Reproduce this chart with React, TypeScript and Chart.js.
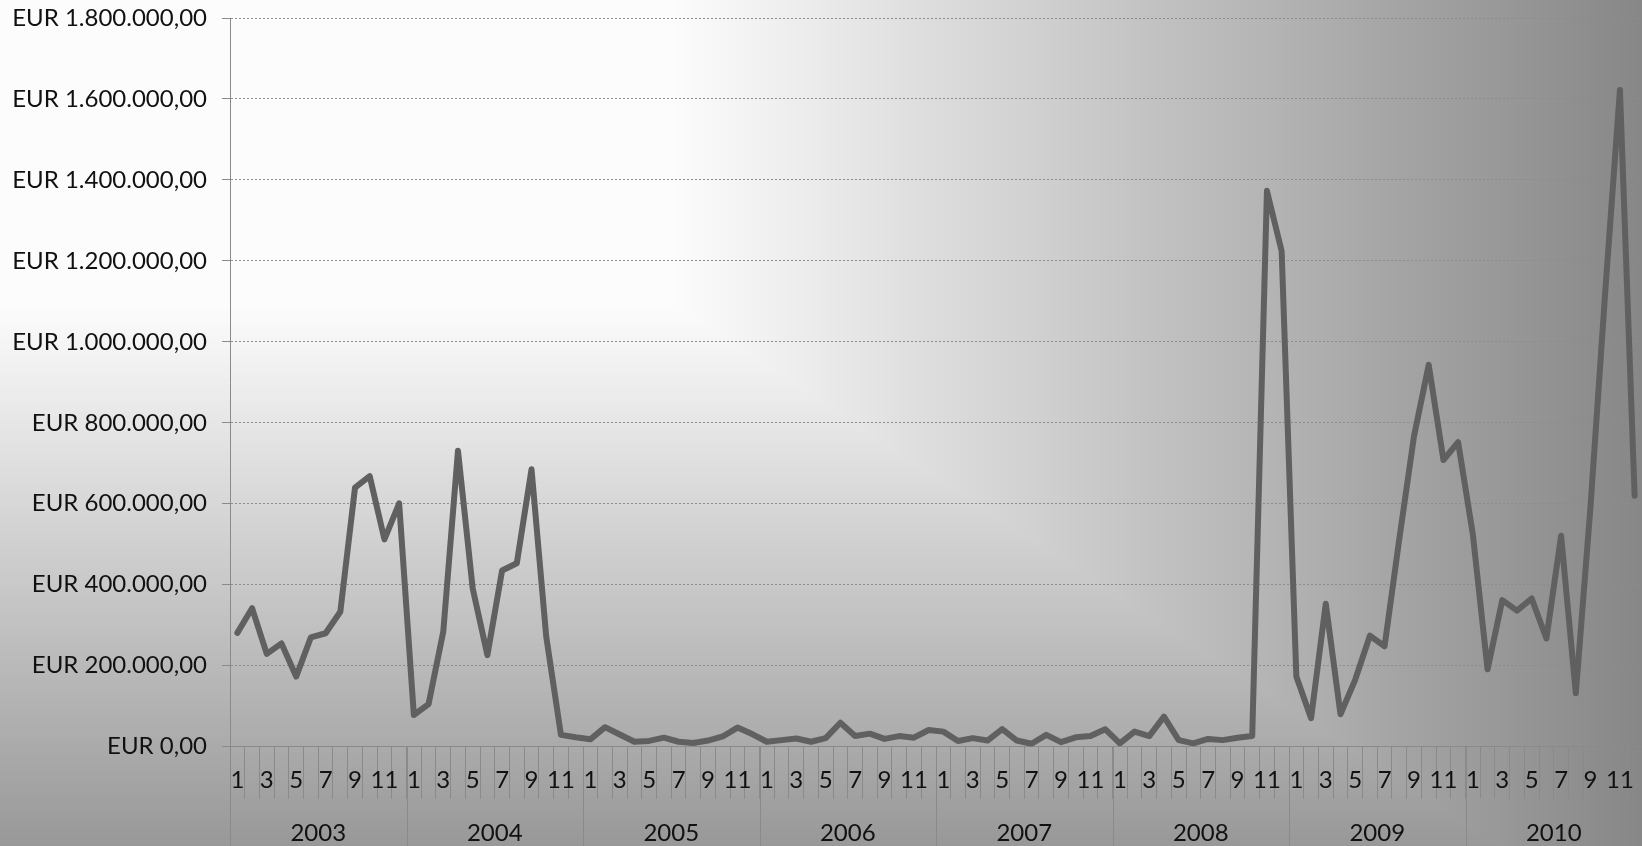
import React, { useEffect, useRef } from "react";
import { Chart, registerables } from "chart.js";

Chart.register(...registerables);

const YEARS = ["2003", "2004", "2005", "2006", "2007", "2008", "2009", "2010"];
const MONTHS = ["1", "2", "3", "4", "5", "6", "7", "8", "9", "10", "11", "12"];

// Monthly values in EUR thousands
const V2003 = [281, 342, 229, 255, 173, 270, 280, 333, 640, 668, 512, 601];
const V2004 = [78, 105, 284, 731, 391, 226, 435, 453, 685, 272, 29, 23];
const V2005 = [18, 48, 30, 12, 14, 22, 12, 9, 15, 25, 47, 31];
const V2006 = [12, 16, 20, 12, 21, 59, 26, 32, 19, 26, 22, 41];
const V2007 = [37, 14, 21, 15, 43, 15, 7, 29, 11, 23, 26, 43];
const V2008 = [8, 37, 26, 74, 16, 8, 19, 16, 22, 26, 1373, 1224];
const V2009 = [173, 70, 353, 80, 165, 274, 248, 513, 767, 943, 708, 752];
const V2010 = [524, 191, 362, 336, 366, 267, 521, 132, 593, 1123, 1622, 620];

const Y_MIN = 0;
const Y_MAX = 1800000;
const Y_STEP = 200000;

const W = 1642;
const H = 846;
const FONT = "Lato, 'Open Sans', sans-serif";
const FONT_SIZE = 24;

function formatEUR(v: number): string {
  const s = Math.round(v).toString().replace(/\B(?=(\d{3})+(?!\d))/g, ".");
  return "EUR " + s + ",00";
}

const bgPlugin = {
  id: "bgGradient",
  beforeDraw(chart: any) {
    const ctx = chart.ctx as CanvasRenderingContext2D;
    const w = chart.width;
    const h = chart.height;
    const img = ctx.createImageData(w, h);
    const d = img.data;
    for (let y = 0; y < h; y++) {
      const ty = y / h;
      const fy = ty < 0.36 ? 252 : 252 - ((ty - 0.36) / 0.64) * (252 - 152);
      for (let x = 0; x < w; x++) {
        const tx = x / w;
        const fx = tx < 0.41 ? 252 : 252 - ((tx - 0.41) / 0.59) * (252 - 135);
        const c = Math.round(Math.min(fx, fy));
        const i = (y * w + x) * 4;
        d[i] = c;
        d[i + 1] = c;
        d[i + 2] = c;
        d[i + 3] = 255;
      }
    }
    ctx.putImageData(img, 0, 0);
  },
};

const yearPlugin = {
  id: "yearAxis",
  afterDraw(chart: any) {
    const ctx = chart.ctx as CanvasRenderingContext2D;
    const xs = chart.scales.x;
    const area = chart.chartArea;
    const half = (xs.getPixelForValue(1) - xs.getPixelForValue(0)) / 2;
    ctx.save();
    ctx.strokeStyle = "#8a8a8a";
    ctx.lineWidth = 1;
    YEARS.forEach((yr, k) => {
      const first = k * MONTHS.length;
      const last = first + MONTHS.length - 1;
      const left = Math.round(xs.getPixelForValue(first) - half) + 0.5;
      ctx.beginPath();
      ctx.moveTo(left, area.bottom);
      ctx.lineTo(left, chart.height);
      ctx.stroke();
      const cx = (xs.getPixelForValue(first) + xs.getPixelForValue(last)) / 2;
      ctx.fillStyle = "#111";
      ctx.font = FONT_SIZE + "px " + FONT;
      ctx.textAlign = "center";
      ctx.textBaseline = "middle";
      ctx.fillText(yr, cx, 833);
    });
    ctx.restore();
  },
};

export default function App() {
  const ref = useRef<HTMLCanvasElement | null>(null);

  useEffect(() => {
    document.body.style.margin = "0";
    document.body.style.overflow = "hidden";
    const labels: string[] = [];
    YEARS.forEach(() => MONTHS.forEach((m) => labels.push(m)));
    const values = [...V2003, ...V2004, ...V2005, ...V2006, ...V2007, ...V2008, ...V2009, ...V2010].map(
      (v) => v * 1000
    );
    const chart = new Chart(ref.current as HTMLCanvasElement, {
      type: "line",
      data: {
        labels,
        datasets: [
          {
            data: values,
            borderColor: "#606060",
            borderWidth: 6,
            pointRadius: 0,
            tension: 0,
            borderJoinStyle: "round",
            borderCapStyle: "round",
            fill: false,
          },
        ],
      },
      options: {
        animation: false,
        responsive: false,
        devicePixelRatio: 1,
        layout: { padding: { top: 18, left: 0, right: 0, bottom: 0 } },
        plugins: { legend: { display: false }, tooltip: { enabled: false } },
        scales: {
          x: {
            type: "category",
            offset: true,
            grid: {
              offset: true,
              drawOnChartArea: false,
              drawTicks: true,
              tickLength: 52,
              color: "#8a8a8a",
              tickColor: "#8a8a8a",
              lineWidth: 1,
            },
            border: { display: true, color: "#8a8a8a", width: 1 },
            ticks: {
              autoSkip: false,
              maxRotation: 0,
              minRotation: 0,
              padding: -33,
              color: "#111",
              font: { family: FONT, size: FONT_SIZE },
              callback: function (this: any, value: any, index: number) {
                return index % 2 === 0 ? this.getLabelForValue(value) : "";
              },
            },
            afterFit: (scale: any) => {
              scale.height = 99.4;
              scale.paddingLeft = 0;
              scale.paddingRight = 0;
            },
          },
          y: {
            min: Y_MIN,
            max: Y_MAX,
            ticks: {
              stepSize: Y_STEP,
              padding: 15,
              color: "#111",
              font: { family: FONT, size: FONT_SIZE },
              callback: (v: any) => formatEUR(Number(v)),
            },
            grid: {
              color: "#8c8c8c",
              tickColor: "#8a8a8a",
              tickLength: 8,
              tickBorderDash: [],
              lineWidth: 1,
            },
            border: { display: true, color: "#8a8a8a", width: 1, dash: [2, 2] },
            afterFit: (scale: any) => {
              scale.width = 230;
              scale.paddingTop = 0;
              scale.paddingBottom = 0;
            },
          },
        },
      },
      plugins: [bgPlugin, yearPlugin],
    } as any);
    return () => chart.destroy();
  }, []);

  return (
    <div style={{ width: W, height: H, overflow: "hidden" }}>
      <canvas ref={ref} width={W} height={H} style={{ display: "block", width: W, height: H }} />
    </div>
  );
}
